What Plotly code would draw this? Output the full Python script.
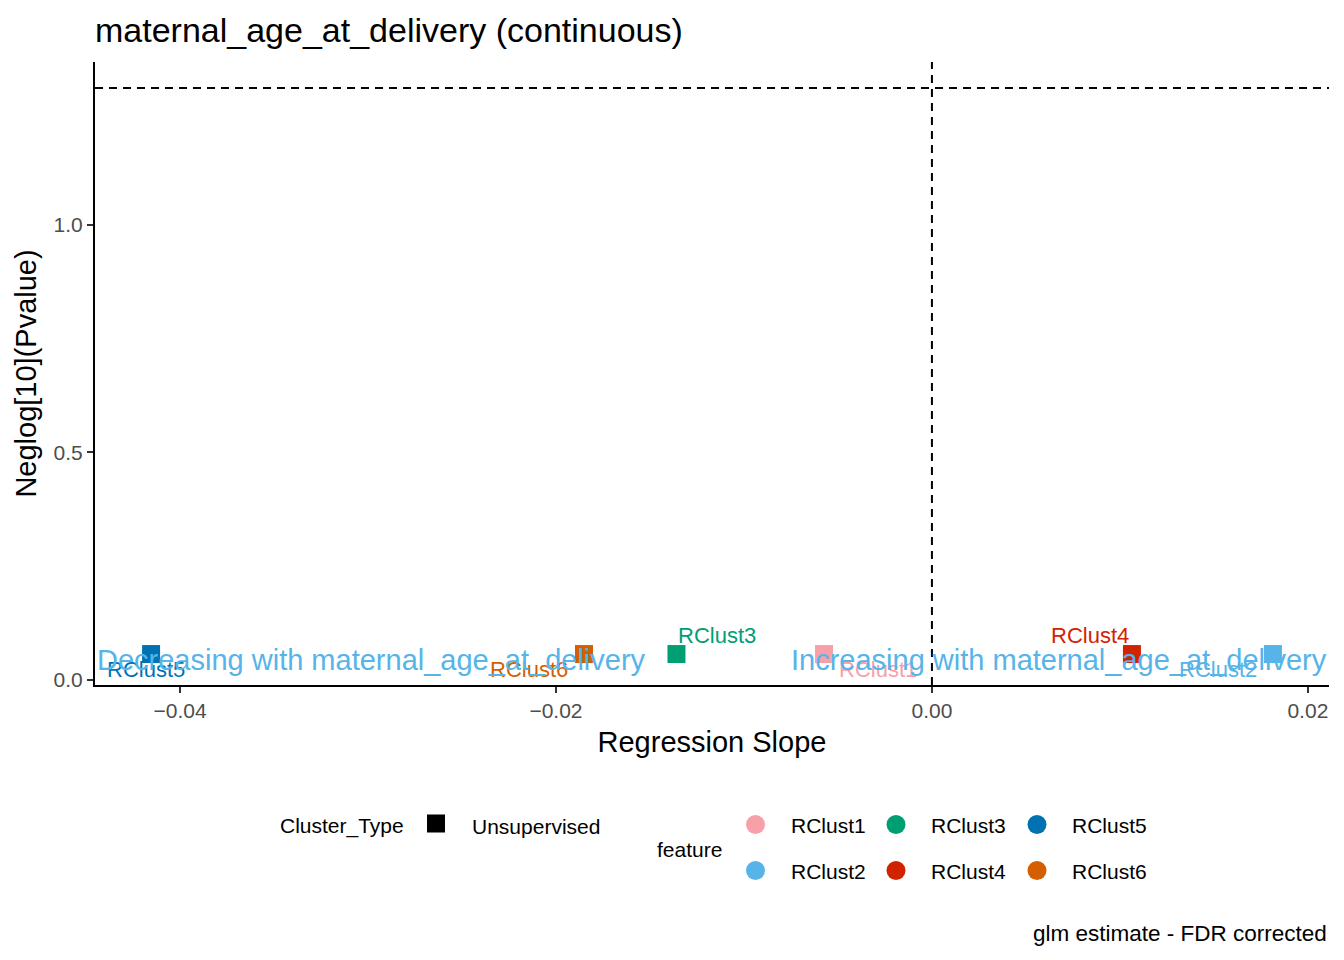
import math

import plotly.graph_objects as go

# data
features = ["RClust1", "RClust2", "RClust3", "RClust4", "RClust5", "RClust6"]
slope = [-0.00574, 0.01814, -0.01359, 0.01064, -0.04154, -0.01851]
neglog_p = [0.057, 0.057, 0.057, 0.057, 0.057, 0.057]
colors = ["#F8A0AA", "#56B4E9", "#009E73", "#D22300", "#0072B2", "#D55E00"]
cluster_type = "Unsupervised"
variable = "maternal_age_at_delivery"

x_ticks = [-0.04, -0.02, 0.0, 0.02]
y_ticks = [0.0, 0.5, 1.0]
sig_line = -math.log10(0.05)

# repel label offsets in px (dx, dy up)
label_shift = {
    "RClust1": (54, -15),
    "RClust2": (-55, -15),
    "RClust3": (41, 19),
    "RClust4": (-42, 19),
    "RClust5": (-5, -15),
    "RClust6": (-55, -15),
}

FONT = "Liberation Sans, Arial, sans-serif"
OFF = 8  # page body margin
SW, SH = 1344, 960  # screen size
W, H = SW - OFF, SH - OFF
# plot area in screen px
P_L, P_R, P_T, P_BOT = 95, 1329, 62, 940
PLOT_BOTTOM = 685  # where the x axis sits
M_L, M_T = P_L - OFF, P_T - OFF
M_R, M_B = W - (P_R - OFF), H - (P_BOT - OFF)
area_h = P_BOT - P_T
y_dom0 = (P_BOT - PLOT_BOTTOM) / area_h
leg_dom1 = 0.2
leg_top_px = P_BOT - leg_dom1 * area_h

span = max(slope) - min(slope)
x_range = [min(slope) - 0.05 * span, max(slope) + 0.05 * span]
y_range = [-0.011, 1.358]

fig = go.Figure()

for f, x, y, c in zip(features, slope, neglog_p, colors):
    fig.add_trace(go.Scatter(
        x=[x], y=[y], mode="markers", name=f,
        marker=dict(symbol="square", size=18, color=c),
        hoverinfo="skip", showlegend=False,
    ))
    dx, dy = label_shift[f]
    fig.add_annotation(
        x=x, y=y, text=f, showarrow=False, xshift=dx, yshift=dy,
        font=dict(family=FONT, size=22, color=c),
    )

fig.add_annotation(
    xref="x domain", x=0, y=0.044, xanchor="left", showarrow=False,
    text=f"Decreasing with {variable}",
    font=dict(family=FONT, size=29, color="#56B4E9"),
)
fig.add_annotation(
    xref="x domain", x=1, y=0.044, xanchor="right", showarrow=False,
    text=f"Increasing with {variable}",
    font=dict(family=FONT, size=29, color="#56B4E9"),
)

fig.add_shape(type="line", xref="x", yref="y domain", x0=0, x1=0, y0=0, y1=1,
              line=dict(color="black", width=2, dash="8px,6px"))
fig.add_shape(type="line", xref="x domain", yref="y", x0=0, x1=1, y0=sig_line, y1=sig_line,
              line=dict(color="black", width=2, dash="8px,6px"))

# legend drawn on an overlay axis measured in screen px
leg_cols = [755.5, 896, 1037]
leg_rows = [824.5, 870.5]
order = ["RClust1", "RClust2", "RClust3", "RClust4", "RClust5", "RClust6"]
lx, ly, lc = [], [], []
for i, f in enumerate(order):
    col, row = divmod(i, 2)
    lx.append(leg_cols[col])
    ly.append(leg_rows[row])
    lc.append(colors[features.index(f)])
    fig.add_annotation(
        xref="x2", yref="y2", x=leg_cols[col] + 33, y=leg_rows[row] + 1,
        text=f, xanchor="left", showarrow=False,
        font=dict(family=FONT, size=21, color="black"),
    )
fig.add_trace(go.Scatter(
    x=lx, y=ly, xaxis="x2", yaxis="y2", mode="markers",
    marker=dict(symbol="circle", size=19, color=lc),
    hoverinfo="skip", showlegend=False,
))
fig.add_trace(go.Scatter(
    x=[436], y=[823.5], xaxis="x2", yaxis="y2", mode="markers",
    marker=dict(symbol="square", size=18, color="black"),
    hoverinfo="skip", showlegend=False,
))
for txt, x, y in [("Cluster_Type", 278, 826), (cluster_type, 470, 826), ("feature", 655, 849)]:
    fig.add_annotation(
        xref="x2", yref="y2", x=x, y=y, text=txt, xanchor="left", showarrow=False,
        font=dict(family=FONT, size=21, color="black"),
    )
fig.add_annotation(
    xref="x2", yref="y2", x=P_R, y=933, xanchor="right", showarrow=False,
    text="glm estimate - FDR corrected",
    font=dict(family=FONT, size=22.5, color="black"),
)

fig.update_layout(
    width=W, height=H,
    margin=dict(l=M_L, r=M_R, t=M_T, b=M_B, autoexpand=False),
    paper_bgcolor="white", plot_bgcolor="white",
    font=dict(family=FONT, color="black"),
    title=dict(
        text=f"{variable} (continuous)", x=0, xref="paper", xanchor="left",
        y=1 - (30 - OFF) / H, yref="container", yanchor="middle",
        font=dict(family=FONT, size=34, color="black"),
    ),
    xaxis=dict(
        range=x_range, domain=[0, 1], anchor="y",
        tickvals=x_ticks, tickformat=".2f",
        showline=True, linecolor="black", linewidth=2,
        ticks="outside", ticklen=6, tickwidth=2, tickcolor="#333333",
        tickfont=dict(family=FONT, size=21, color="#4D4D4D"),
        showgrid=False, zeroline=False,
        title=dict(text="Regression Slope", standoff=10,
                   font=dict(family=FONT, size=29, color="black")),
    ),
    yaxis=dict(
        range=y_range, domain=[y_dom0, 1], anchor="x",
        tickvals=y_ticks, tickformat=".1f",
        showline=True, linecolor="black", linewidth=2,
        ticks="outside", ticklen=6, tickwidth=2, tickcolor="#333333",
        tickfont=dict(family=FONT, size=21, color="#4D4D4D"),
        showgrid=False, zeroline=False,
        title=dict(text="Neglog[10](Pvalue)", standoff=8,
                   font=dict(family=FONT, size=29, color="black")),
    ),
    xaxis2=dict(range=[P_L, P_R], domain=[0, 1], anchor="y2", visible=False, fixedrange=True),
    yaxis2=dict(range=[P_BOT, leg_top_px], domain=[0, leg_dom1], anchor="x2", visible=False,
                fixedrange=True),
    showlegend=False,
)

fig.write_html("out.html")
